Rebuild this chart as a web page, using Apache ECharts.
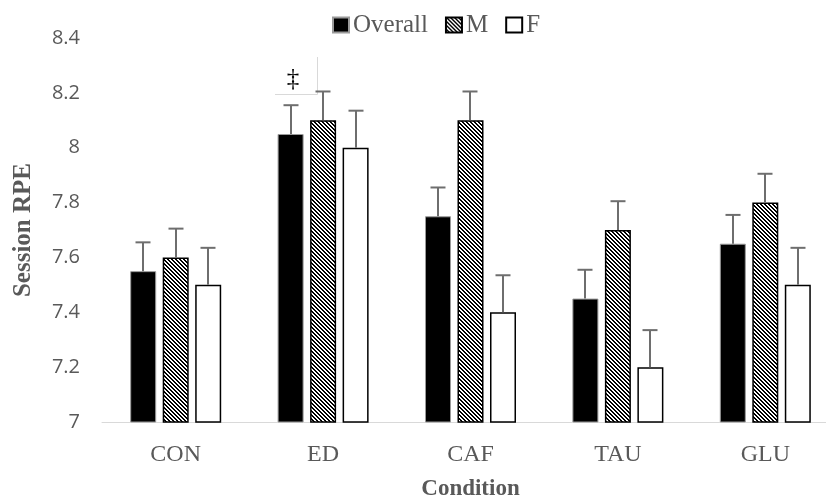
<!DOCTYPE html>
<html>
<head>
<meta charset="utf-8">
<script src="https://cdn.jsdelivr.net/npm/echarts@6/dist/echarts.min.js"></script>
<style>
    html, body { margin: 0; padding: 0; background: #fff; }
    #chart { width: 826px; height: 498px; }
</style>
</head>
<body>
<div id="chart"></div>
<script>
    // data
    var categories = ['CON', 'ED', 'CAF', 'TAU', 'GLU']
    var overall = [7.55, 8.05, 7.75, 7.45, 7.65]
    var male = [7.6, 8.1, 8.1, 7.7, 7.8]
    var female = [7.5, 8.0, 7.4, 7.2, 7.5]
    var overallErr = [0.105, 0.105, 0.105, 0.105, 0.105]
    var maleErr = [0.105, 0.105, 0.105, 0.105, 0.105]
    var femaleErr = [0.135, 0.135, 0.135, 0.135, 0.135]

    var textGray = '#595959'
    var serif = '"Liberation Serif", "DejaVu Serif", serif'
    var barW = 26
    var barGapPx = 6.5

    // diagonal hatch for M
    function makeHatch() {
        let c = document.createElement('canvas')
        c.width = 4
        c.height = 4
        let ctx = c.getContext('2d')
        ctx.fillStyle = '#fff'
        ctx.fillRect(0, 0, 4, 4)
        ctx.fillStyle = '#000'
        for (let x = 0; x < 4; x++) {
            for (let y = 0; y < 4; y++) {
                let d = ((x - y) % 4 + 4) % 4
                if (d === 0 || d === 1) ctx.fillRect(x, y, 1, 1)
            }
        }
        return c
    }
    var hatch = { image: makeHatch(), repeat: 'repeat' }

    // error bar (upper only) on bar number idx of 3
    function errorSeries(vals, errs, idx) {
        return {
            type: 'custom',
            silent: true,
            z: 5,
            data: vals.map(function (v, i) { return [i, v, v + errs[i]] }),
            renderItem: function (params, api) {
                let base = api.coord([api.value(0), api.value(1)])
                let top = api.coord([api.value(0), api.value(2)])
                let x = Math.round(base[0] + (idx - 1) * (barW + barGapPx))
                let half = 7.5
                let style = { stroke: '#6e6e6e', lineWidth: 2 }
                return {
                    type: 'group',
                    children: [
                        { type: 'line', shape: { x1: x, y1: base[1], x2: x, y2: top[1] }, style: style },
                        { type: 'line', shape: { x1: x - half, y1: top[1], x2: x + half, y2: top[1] }, style: style }
                    ]
                }
            }
        }
    }

    var myChart = echarts.init(document.getElementById('chart'))
    var option = {
        animation: false,
        grid: { left: 102, top: 38, width: 737, bottom: 76, outerBoundsMode: 'none', containLabel: false },
        legend: {
            top: 7,
            left: 327,
            padding: 5,
            itemWidth: 16,
            itemHeight: 15,
            itemGap: 17,
            icon: 'rect',
            textStyle: { fontFamily: serif, fontSize: 25, lineHeight: 26, color: textGray, padding: [0, 0, 0, -1] },
            data: ['Overall', 'M', 'F']
        },
        xAxis: {
            type: 'category',
            data: categories,
            name: 'Condition',
            nameLocation: 'middle',
            nameGap: 56,
            nameTextStyle: { fontFamily: serif, fontSize: 23, fontWeight: 'bold', color: textGray },
            axisLine: { lineStyle: { color: '#d9d9d9', width: 1 } },
            axisTick: { show: false },
            axisLabel: { fontFamily: serif, fontSize: 24, color: textGray, margin: 21 }
        },
        yAxis: {
            type: 'value',
            min: 7,
            max: 8.4,
            interval: 0.2,
            name: 'Session RPE',
            nameLocation: 'middle',
            nameGap: 66,
            nameTextStyle: { fontFamily: serif, fontSize: 25, fontWeight: 'bold', color: textGray },
            axisLine: { show: false },
            axisTick: { show: false },
            splitLine: { show: false },
            axisLabel: {
                fontFamily: '"Open Sans", "Noto Sans", sans-serif',
                fontSize: 20,
                color: textGray,
                margin: 22,
                formatter: function (v) { return String(Math.round(v * 10) / 10) }
            }
        },
        series: [
            {
                name: 'Overall',
                type: 'bar',
                barWidth: barW,
                barGap: '25%',
                data: overall,
                itemStyle: { color: '#000', borderColor: '#9a9a9a', borderWidth: 1 }
            },
            {
                name: 'M',
                type: 'bar',
                barWidth: barW,
                data: male,
                itemStyle: { color: hatch, borderColor: '#000', borderWidth: 1.5 }
            },
            {
                name: 'F',
                type: 'bar',
                barWidth: barW,
                data: female,
                itemStyle: { color: '#fff', borderColor: '#000', borderWidth: 1.5 }
            },
            errorSeries(overall, overallErr, 0),
            errorSeries(male, maleErr, 1),
            errorSeries(female, femaleErr, 2)
        ],
        graphic: [
            // significance marker box over ED
            { type: 'line', shape: { x1: 317.5, y1: 57, x2: 317.5, y2: 94.5 }, style: { stroke: '#d9d9d9', lineWidth: 1 } },
            { type: 'line', shape: { x1: 275, y1: 94.5, x2: 317.5, y2: 94.5 }, style: { stroke: '#d9d9d9', lineWidth: 1 } },
            { type: 'text', x: 293, y: 79, style: { text: '‡', fontFamily: serif, fontSize: 25, fill: '#000', align: 'center', verticalAlign: 'middle' } }
        ]
    }
    myChart.setOption(option)
</script>
</body>
</html>
